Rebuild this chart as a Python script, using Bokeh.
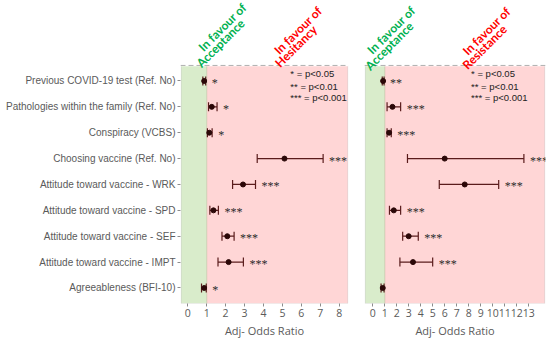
from bokeh.plotting import figure
from bokeh.layouts import row
from bokeh.models import (Range1d, FixedTicker, BoxAnnotation, Span, Whisker,
                          TeeHead, ColumnDataSource, Label)
from bokeh.embed import file_html
from bokeh.resources import INLINE

# ---------------- data ----------------
predictors = [
    "Previous COVID-19 test (Ref. No)",
    "Pathologies within the family (Ref. No)",
    "Conspiracy (VCBS)",
    "Choosing vaccine (Ref. No)",
    "Attitude toward vaccine - WRK",
    "Attitude toward vaccine - SPD",
    "Attitude toward vaccine - SEF",
    "Attitude toward vaccine - IMPT",
    "Agreeableness (BFI-10)",
]
# Hesitancy panel
hes_or = [0.87, 1.27, 1.14, 5.11, 2.92, 1.36, 2.09, 2.16, 0.87]
hes_lo = [0.80, 1.10, 1.04, 3.67, 2.37, 1.17, 1.81, 1.60, 0.73]
hes_hi = [0.95, 1.55, 1.29, 7.15, 3.58, 1.62, 2.45, 2.94, 0.98]
hes_sig = ["*", "*", "*", "***", "***", "***", "***", "***", "*"]
# Resistance panel
res_or = [0.87, 1.65, 1.37, 6.00, 7.67, 1.76, 3.00, 3.36, 0.84]
res_lo = [0.80, 1.20, 1.20, 2.90, 5.55, 1.40, 2.50, 2.27, 0.70]
res_hi = [0.95, 2.33, 1.55, 12.60, 10.50, 2.33, 3.80, 5.00, 0.95]
res_sig = ["**", "***", "***", "***", "***", "***", "***", "***", ""]

hes_ticks = list(range(0, 9))
res_ticks = list(range(0, 14))
legend_lines = ["* =  p<0.05", "** =  p<0.01", "*** =  p<0.001"]

GREEN_BG = "#d9eccb"
RED_BG = "#ffd6d6"
BORDER = "#a6a6a6"
BAR = "#5a1c1c"
PT = "#2b0808"
AX_TXT = "#5a5a5a"

rows_y = list(range(1, len(predictors) + 1))
Y_TOP, Y_BOT = 0.4, 9.6     # panel extent in row units


def make_panel(or_, lo, hi, sig, ticks, xr, width, mbl, mbr, show_y,
               ann_left, ann_right, right_word, legend_x):
    p = figure(width=width, height=343, output_backend="svg",
               toolbar_location=None, x_range=Range1d(*xr),
               y_range=Range1d(Y_BOT, -2.11),
               min_border_left=mbl, min_border_right=mbr,
               min_border_top=0, min_border_bottom=40)
    p.grid.visible = False
    p.outline_line_color = None
    p.background_fill_color = "white"
    p.border_fill_color = "white"

    span = xr[1] - xr[0]
    bl, br = xr[0] + 0.004 * span, xr[1] - 0.004 * span
    p.add_layout(BoxAnnotation(left=bl, right=1, top=Y_TOP, bottom=Y_BOT,
                               fill_color=GREEN_BG, fill_alpha=1,
                               line_color=None, level="underlay"))
    p.add_layout(BoxAnnotation(left=1, right=br, top=Y_TOP, bottom=Y_BOT,
                               fill_color=RED_BG, fill_alpha=1,
                               line_color=None, level="underlay"))
    p.add_layout(BoxAnnotation(left=bl, right=br, top=Y_TOP, bottom=Y_BOT,
                               fill_color=None, line_color=BORDER,
                               line_width=1, level="underlay"))
    p.add_layout(BoxAnnotation(left=1, right=1, top=Y_TOP, bottom=Y_BOT,
                               fill_color=None, line_color="#8fae74",
                               line_width=1.3, level="underlay"))
    p.add_layout(Span(location=Y_TOP, dimension="width", line_color="white",
                      line_width=1.5, level="underlay"))
    p.add_layout(Span(location=Y_TOP, dimension="width", line_color="#b0b0b0",
                      line_width=1, line_dash="5 3", level="underlay"))

    src = ColumnDataSource(dict(y=rows_y, o=or_, lo=lo, hi=hi, sig=sig))
    p.add_layout(Whisker(source=src, base="y", lower="lo", upper="hi",
                         dimension="width", line_color=BAR, line_width=1.2,
                         upper_head=TeeHead(size=9, line_color=BAR, line_width=1.2),
                         lower_head=TeeHead(size=9, line_color=BAR, line_width=1.2)))
    p.scatter("o", "y", source=src, size=5, color=PT)
    p.text(x="hi", y="y", text="sig", source=src, x_offset=6, y_offset=2,
           text_baseline="middle", text_align="left", text_font_size="12px",
           text_color="#2a2a2a", text_font="Liberation Sans")

    # axes
    xa = p.xaxis[0]
    xa.ticker = FixedTicker(ticks=ticks)
    xa.axis_line_color = None
    xa.major_tick_in = 0
    xa.major_tick_out = 3
    xa.major_tick_line_color = "#8c8c8c"
    xa.minor_tick_line_color = None
    xa.major_label_text_font = "Open Sans"
    xa.major_label_text_font_size = "10.5px"
    xa.major_label_text_color = AX_TXT
    xa.major_label_standoff = 2
    xa.axis_label = "Adj- Odds Ratio"
    xa.axis_label_text_font = "Open Sans"
    xa.axis_label_text_font_size = "11px"
    xa.axis_label_text_font_style = "normal"
    xa.axis_label_text_color = AX_TXT
    xa.axis_label_standoff = 3

    ya = p.yaxis[0]
    if show_y:
        ya.ticker = FixedTicker(ticks=rows_y)
        ya.major_label_overrides = {y: n for y, n in zip(rows_y, predictors)}
        ya.axis_line_color = None
        ya.major_tick_in = 0
        ya.major_tick_out = 3
        ya.major_tick_line_color = "#8c8c8c"
        ya.minor_tick_line_color = None
        ya.major_label_text_font = "Liberation Sans"
        ya.major_label_text_font_size = "10px"
        ya.major_label_text_color = AX_TXT
        ya.major_label_standoff = 2
    else:
        ya.visible = False

    # rotated headings above the panel (offsets act in the rotated text frame)
    for (cx, cy), words, col in [(ann_left, "Acceptance", "#00b050"),
                                 (ann_right, right_word, "#ff0000")]:
        p.add_layout(Label(x=cx, y=cy, text="In favour of", angle=45,
                           angle_units="deg", x_offset=1, y_offset=8,
                           text_align="center", text_baseline="middle",
                           text_font="Lato", text_font_style="bold",
                           text_font_size="12px", text_color=col))
        p.add_layout(Label(x=cx, y=cy, text=words, angle=45,
                           angle_units="deg", x_offset=-1, y_offset=-8,
                           text_align="center", text_baseline="middle",
                           text_font="Lato", text_font_style="bold",
                           text_font_size="12px", text_color=col))

    # significance legend
    for yy, t in zip([0.71, 1.21, 1.64], legend_lines):
        p.add_layout(Label(x=legend_x, y=yy, text=t, text_align="left",
                           text_baseline="middle", text_font="Liberation Sans",
                           text_font_size="9.5px", text_color="#222222"))
    return p


p1 = make_panel(hes_or, hes_lo, hes_hi, hes_sig, hes_ticks, (-0.38, 8.49),
                width=356, mbl=180, mbr=8, show_y=True,
                ann_left=(1.78, -0.77), ann_right=(5.77, -0.65),
                right_word="Hesitancy", legend_x=5.42)
p2 = make_panel(res_or, res_lo, res_hi, res_sig, res_ticks, (-0.68, 14.4),
                width=192, mbl=8, mbr=3, show_y=False,
                ann_left=(1.46, -0.66), ann_right=(9.41, -0.62),
                right_word="Resistance", legend_x=8.2)

layout = row(p1, p2)
open("out.html", "w").write(file_html(layout, INLINE))
